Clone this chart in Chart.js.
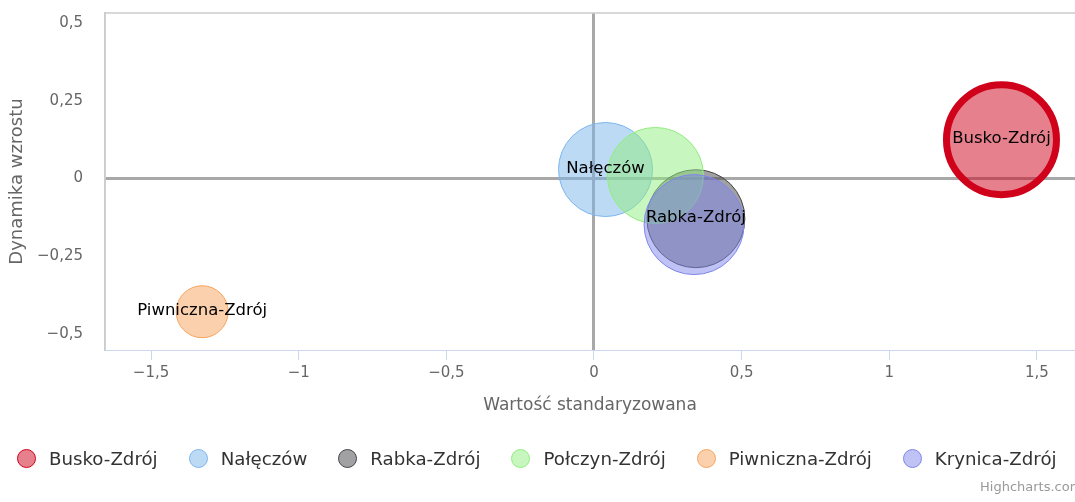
<!DOCTYPE html>
<html>
<head>
<meta charset="utf-8">
<script src="https://cdn.jsdelivr.net/npm/chart.js@4.4.0/dist/chart.umd.min.js"></script>
<style>
  html, body { margin: 0; padding: 0; background: #fff; overflow: hidden; }
  #wrap { position: relative; width: 1075px; height: 502px; }
  #legend { position: absolute; left: 17px; top: 448px; display: flex; align-items: center;
            font: 18.2px "DejaVu Sans", sans-serif; color: #333; white-space: nowrap; }
  .item { display: flex; align-items: center; margin-right: 31px; }
  .dot { width: 17px; height: 17px; border-radius: 50%; border: 1px solid; margin-right: 13px; box-sizing: content-box; }
  #credit { position: absolute; left: 980px; top: 479px; font: 13px "DejaVu Sans", sans-serif; color: #999; white-space: nowrap; }
</style>
</head>
<body>
<div id="wrap">
  <canvas id="myBubbleChart" width="1075" height="502"></canvas>
  <div id="legend"></div>
  <div id="credit">Highcharts.com</div>
</div>
<script>
// dane
const resorts = ['Busko-Zdrój', 'Nałęczów', 'Rabka-Zdrój', 'Połczyn-Zdrój', 'Piwniczna-Zdrój', 'Krynica-Zdrój'];
const xValues = [1.380, 0.039, 0.345, 0.208, -1.327, 0.339];
const yValues = [0.125, 0.029, -0.129, 0.010, -0.428, -0.148];
const bubbleSize = [55, 47, 49, 48, 26, 50];
const showLabel = [true, true, true, false, true, false];
const xTicks = [-1.5, -1, -0.5, 0, 0.5, 1, 1.5];
const yTicks = [-0.5, -0.25, 0, 0.25, 0.5];

// kolory serii
const lineColors = ['rgb(208, 2, 27)', 'rgb(124, 181, 236)', 'rgb(67, 67, 72)', 'rgb(144, 237, 125)', 'rgb(247, 163, 92)', 'rgb(128, 133, 233)'];
const fillColors = ['rgba(208, 2, 27, 0.5)', 'rgba(124, 181, 236, 0.5)', 'rgba(67, 67, 72, 0.5)', 'rgba(144, 237, 125, 0.5)', 'rgba(247, 163, 92, 0.5)', 'rgba(128, 133, 233, 0.5)'];

const FONT = '"DejaVu Sans", sans-serif';

function fmt(v) {
    let s = String(Math.abs(v)).replace('.', ',');
    return v < 0 ? '\u2212' + s : s;
}

const datasets = resorts.map((name, i) => ({
    label: name,
    data: [{ x: xValues[i], y: yValues[i], r: bubbleSize[i] }],
    backgroundColor: fillColors[i],
    borderColor: lineColors[i],
    borderWidth: i === 0 ? 7 : 1,
    order: resorts.length - i   // kolejne serie rysowane na wierzchu
}));

const zeroColor = '#a8a8a8';

// ramka obszaru wykresu + etykiety bąbli
const extras = {
    id: 'extras',
    beforeDatasetsDraw(chart) {
        const { ctx, chartArea: a } = chart;
        ctx.save();
        ctx.strokeStyle = '#cccccc';
        ctx.lineWidth = 1.5;
        ctx.beginPath();
        ctx.moveTo(a.left, a.bottom);
        ctx.lineTo(a.left, a.top);
        ctx.lineTo(a.right, a.top);
        ctx.stroke();
        ctx.restore();
    },
    afterDatasetsDraw(chart) {
        const ctx = chart.ctx;
        ctx.save();
        ctx.font = '16.5px ' + FONT;
        ctx.fillStyle = '#000';
        ctx.textAlign = 'center';
        ctx.textBaseline = 'middle';
        chart.data.datasets.forEach((ds, i) => {
            if (!showLabel[i]) return;
            const pt = chart.getDatasetMeta(i).data[0];
            ctx.fillText(ds.label, pt.x, pt.y - 1);
        });
        ctx.restore();
    }
};

const chart = new Chart(document.getElementById('myBubbleChart'), {
    type: 'bubble',
    data: { datasets },
    options: {
        responsive: false,
        animation: false,
        layout: { autoPadding: false, padding: { top: 13, right: 0, bottom: 82, left: 0 } },
        plugins: {
            legend: { display: false },
            tooltip: { enabled: false }
        },
        scales: {
            x: {
                type: 'linear',
                min: -1.656,
                max: 1.629,
                afterBuildTicks: s => { s.ticks = xTicks.map(v => ({ value: v })); },
                afterFit: s => { s.height = 70; },
                ticks: { callback: v => fmt(v), color: '#666', font: { family: FONT, size: 15 }, padding: 4, maxRotation: 0 },
                grid: {
                    color: c => c.tick && c.tick.value === 0 ? zeroColor : 'rgba(0,0,0,0)',
                    lineWidth: c => c.tick && c.tick.value === 0 ? 3 : 1,
                    tickColor: '#ccd6eb',
                    tickLength: 10,
                    tickWidth: 1
                },
                border: { color: '#ccd6eb', width: 1 },
                title: { display: true, text: 'Wartość standaryzowana', color: '#666', font: { family: FONT, size: 17 }, padding: { top: 0, bottom: 4 } }
            },
            y: {
                type: 'linear',
                min: -0.551,
                max: 0.532,
                afterBuildTicks: s => { s.ticks = yTicks.map(v => ({ value: v })); },
                afterFit: s => { s.width = 105; },
                ticks: { callback: v => fmt(v), color: '#666', font: { family: FONT, size: 15 }, padding: 4 },
                grid: {
                    drawTicks: true,
                    tickLength: 18,
                    tickColor: 'rgba(0,0,0,0)',
                    color: c => c.tick && c.tick.value === 0 ? zeroColor : 'rgba(0,0,0,0)',
                    lineWidth: c => c.tick && c.tick.value === 0 ? 3 : 1
                },
                border: { color: '#cccccc', width: 1.5 },
                title: { display: true, text: 'Dynamika wzrostu', color: '#666', font: { family: FONT, size: 18 }, padding: { top: 7, bottom: 0 } }
            }
        }
    },
    plugins: [extras]
});

// legenda
const legend = document.getElementById('legend');
resorts.forEach((name, i) => {
    const item = document.createElement('div');
    item.className = 'item';
    item.innerHTML = `<span class="dot" style="background:${fillColors[i]};border-color:${lineColors[i]}"></span><span>${name}</span>`;
    legend.appendChild(item);
});
</script>
</body>
</html>
